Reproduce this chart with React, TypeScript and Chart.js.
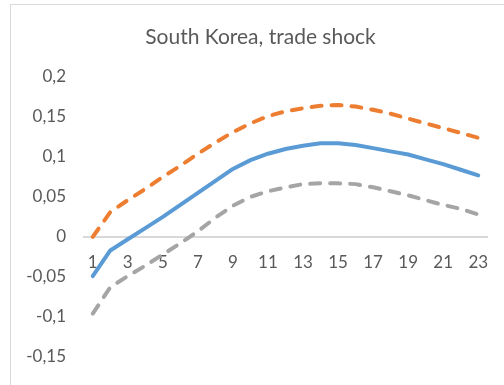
import React, { useEffect, useRef } from 'react';
import { Chart, registerables } from 'chart.js';

Chart.register(...registerables);

const chartTitle = 'South Korea, trade shock';

const categories = [
  '1', '2', '3', '4', '5', '6', '7', '8', '9', '10', '11', '12',
  '13', '14', '15', '16', '17', '18', '19', '20', '21', '22', '23',
];

const centralValues = [
  -0.049, -0.017, -0.003, 0.011, 0.025, 0.040, 0.055, 0.070, 0.085, 0.096, 0.104, 0.110,
  0.114, 0.117, 0.117, 0.115, 0.111, 0.107, 0.103, 0.097, 0.091, 0.084, 0.077,
];

const upperValues = [
  0.000, 0.031, 0.046, 0.060, 0.075, 0.089, 0.104, 0.118, 0.131, 0.142, 0.151, 0.157,
  0.161, 0.164, 0.165, 0.163, 0.159, 0.154, 0.148, 0.142, 0.136, 0.130, 0.124,
];

const lowerValues = [
  -0.096, -0.063, -0.049, -0.036, -0.022, -0.008, 0.007, 0.024, 0.039, 0.050, 0.057, 0.062,
  0.066, 0.067, 0.067, 0.066, 0.062, 0.057, 0.052, 0.046, 0.040, 0.035, 0.028,
];

const yMin = -0.15;
const yMax = 0.2;
const yStep = 0.05;

const FONT = 'Lato, "Liberation Sans", sans-serif';
const TEXT = '#595959';

function formatTick(v: number): string {
  const r = Number(v.toFixed(2));
  return String(r).replace('.', ',');
}

// Title centred over the chart frame, like the source.
const frameTitlePlugin = {
  id: 'frameTitle',
  afterDraw(chart: any) {
    const ctx = chart.ctx;
    ctx.save();
    ctx.font = `normal 21px ${FONT}`;
    ctx.fillStyle = TEXT;
    ctx.textAlign = 'center';
    ctx.textBaseline = 'middle';
    const cx = (chart.width + 17) / 2;
    ctx.fillText(chartTitle, cx, 37);
    ctx.restore();
  },
};

export default function App() {
  const ref = useRef<HTMLCanvasElement>(null);

  useEffect(() => {
    const canvas = ref.current;
    if (!canvas) return;
    const lineBase = {
      borderWidth: 4,
      pointRadius: 0,
      tension: 0,
      borderCapStyle: 'round',
      borderJoinStyle: 'round',
    };
    const chart = new Chart(canvas, {
      type: 'line',
      data: {
        labels: categories,
        datasets: [
          {
            ...lineBase,
            label: 'central',
            data: centralValues,
            borderColor: '#5B9BD5',
            backgroundColor: '#5B9BD5',
          },
          {
            ...lineBase,
            label: 'upper',
            data: upperValues,
            borderColor: '#ED7D31',
            backgroundColor: '#ED7D31',
            borderDash: [10, 10],
          },
          {
            ...lineBase,
            label: 'lower',
            data: lowerValues,
            borderColor: '#A5A5A5',
            backgroundColor: '#A5A5A5',
            borderDash: [10, 10],
          },
        ],
      },
      plugins: [frameTitlePlugin],
      options: {
        responsive: false,
        animation: false,
        devicePixelRatio: 1,
        layout: { padding: { left: 0, right: 17, top: 77, bottom: 24 } },
        plugins: {
          legend: { display: false },
          tooltip: { enabled: false },
          title: { display: false },
        },
        scales: {
          x: {
            position: { y: 0 },
            offset: true,
            grid: { display: true, drawOnChartArea: false, drawTicks: false },
            border: { display: true, color: '#D9D9D9', width: 2 },
            ticks: {
              autoSkip: false,
              maxRotation: 0,
              padding: 15,
              color: TEXT,
              font: { family: FONT, size: 17 },
              callback: (_v: any, i: number) => (i % 2 === 0 ? categories[i] : ''),
            },
          },
          y: {
            min: yMin,
            max: yMax,
            grid: { display: false, drawTicks: false },
            border: { display: false },
            ticks: {
              stepSize: yStep,
              padding: 18,
              color: TEXT,
              font: { family: FONT, size: 17 },
              callback: (v: any) => formatTick(Number(v)),
            },
            afterFit: (s: any) => {
              s.width = 84;
            },
          },
        },
      },
    } as any);
    return () => chart.destroy();
  }, []);

  return (
    <div
      style={{
        position: 'fixed',
        left: 0,
        top: 0,
        width: 504,
        height: 385,
        overflow: 'hidden',
        background: '#ffffff',
      }}
    >
      <div
        style={{
          position: 'absolute',
          left: 10,
          top: 4,
          width: 560,
          height: 460,
          border: '1px solid #D9D9D9',
          boxSizing: 'border-box',
        }}
      />
      <canvas
        ref={ref}
        width={504}
        height={385}
        style={{ position: 'absolute', left: 0, top: 0, width: 504, height: 385 }}
      />
    </div>
  );
}
